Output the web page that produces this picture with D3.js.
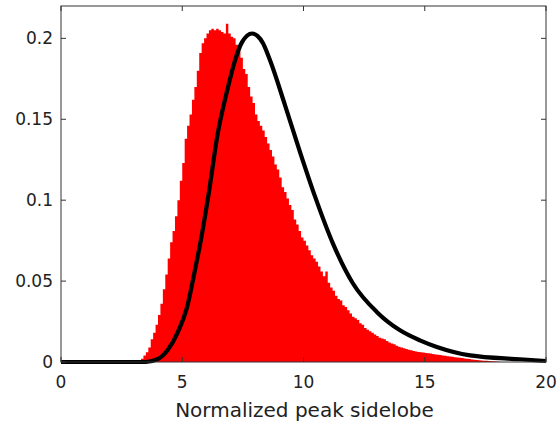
<!DOCTYPE html>
<meta charset="utf-8">
<script src="https://d3js.org/d3.v7.min.js"></script>
<style>
  body { margin: 0; background: #fff; }
  text { font-family: "DejaVu Sans", sans-serif; fill: #222; }
</style>
<body>
<svg width="558" height="424"></svg>
<script>
    // histogram: bins of 0.1 starting at 3.0
    var binStart = 3.0, binWidth = 0.1;
    var histValues = [
      0, 0.0003, 0.001, 0.002, 0.004, 0.006, 0.009, 0.014, 0.018, 0.023,      // 3.0 - 3.9
      0.029, 0.036, 0.045, 0.054, 0.064, 0.074, 0.081, 0.090, 0.100, 0.112,    // 4.0 - 4.9
      0.123, 0.138, 0.146, 0.153, 0.162, 0.170, 0.180, 0.191, 0.197, 0.200,    // 5.0 - 5.9
      0.203, 0.205, 0.206, 0.205, 0.206, 0.205, 0.204, 0.203, 0.209, 0.203,    // 6.0 - 6.9
      0.201, 0.200, 0.196, 0.192, 0.188, 0.181, 0.178, 0.170, 0.164, 0.160,    // 7.0 - 7.9
      0.153, 0.149, 0.146, 0.143, 0.139, 0.135, 0.131, 0.127, 0.122, 0.119,    // 8.0 - 8.9
      0.114, 0.108, 0.105, 0.101, 0.097, 0.094, 0.088, 0.085, 0.081, 0.077,    // 9.0 - 9.9
      0.075, 0.072, 0.069, 0.066, 0.064, 0.062, 0.059, 0.056, 0.053, 0.056,    // 10.0 - 10.9
      0.049, 0.046, 0.044, 0.041, 0.039, 0.038, 0.035, 0.034, 0.032, 0.030,    // 11.0 - 11.9
      0.028, 0.027, 0.026, 0.024, 0.023, 0.021, 0.020, 0.019, 0.018, 0.017,    // 12.0 - 12.9
      0.016, 0.015, 0.0145, 0.014, 0.013, 0.012, 0.0115, 0.011, 0.010, 0.0095, // 13.0 - 13.9
      0.009, 0.0085, 0.008, 0.0075, 0.0072, 0.0068, 0.0065, 0.0062, 0.006, 0.0058, // 14.0 - 14.9
      0.0056, 0.0054, 0.0052, 0.005, 0.0047, 0.0045, 0.0043, 0.004, 0.0038, 0.0036, // 15.0 - 15.9
      0.0034, 0.0032, 0.003, 0.0028, 0.0026, 0.0024, 0.0022, 0.002, 0.0018, 0.0016, // 16.0 - 16.9
      0.0014, 0.0012, 0.0011, 0.001, 0.0008, 0.0007, 0.0006, 0.0005, 0.0004, 0.0003, // 17.0 - 17.9
      0.0002, 0
    ];

    // fitted pdf curve
    var curveX = [0, 3.5, 4.0, 4.4, 4.8, 5.2, 5.5, 5.8, 6.1, 6.45, 6.89, 7.15, 7.46, 7.88, 8.1,
                  8.33, 8.62, 9.24, 9.86, 10.47, 11.22, 12.04, 13.03, 13.98, 14.8, 15.5, 16.87, 18.93, 20];
    var curveY = [0, 0, 0.0019, 0.0074, 0.0179, 0.034, 0.055, 0.078, 0.105, 0.140, 0.170, 0.185, 0.1975, 0.203, 0.2015,
                  0.197, 0.1864, 0.1586, 0.1296, 0.1025, 0.073, 0.0485, 0.0308, 0.0196, 0.0134, 0.0093, 0.0041, 0.0017, 0.0006];

    var xTicks = [0, 5, 10, 15, 20];
    var yTicks = [0, 0.05, 0.1, 0.15, 0.2];
    var xLabel = "Normalized peak sidelobe";

    var mLeft = 61, mRight = 546, mTop = 6, mBottom = 362;
    var svg = d3.select('svg');

    var x = d3.scaleLinear().domain([0, 20]).range([mLeft, mRight]);
    var y = d3.scaleLinear().domain([0, 0.22]).range([mBottom, mTop]);

    // histogram as a stepped area
    var bins = histValues.map(function(v, i){ return { x0: binStart + i*binWidth, v: v }; });
    var area = d3.area()
        .curve(d3.curveStepAfter)
        .x(function(d){ return x(d.x0); })
        .y0(y(0))
        .y1(function(d){ return y(d.v); });
    svg.append('path').datum(bins)
        .attr('d', area)
        .attr('fill', '#ff0000');

    // black curve
    var pts = curveX.map(function(v, i){ return [v, curveY[i]]; });
    var line = d3.line()
        .curve(d3.curveMonotoneX)
        .x(function(d){ return x(d[0]); })
        .y(function(d){ return y(d[1]); });
    svg.append('path').datum(pts)
        .attr('d', line)
        .attr('fill', 'none')
        .attr('stroke', '#000')
        .attr('stroke-width', 4.2)
        .attr('stroke-linejoin', 'round');

    // axes, matlab style: box with inward ticks
    var axisColor = '#333';
    svg.append('rect')
        .attr('x', mLeft).attr('y', mTop)
        .attr('width', mRight - mLeft).attr('height', mBottom - mTop)
        .attr('fill', 'none').attr('stroke', axisColor).attr('stroke-width', 1);

    var g = svg.append('g');
    xTicks.forEach(function(t){
        g.append('line').attr('x1', x(t)).attr('x2', x(t)).attr('y1', mBottom).attr('y2', mBottom - 5).attr('stroke', axisColor);
        g.append('line').attr('x1', x(t)).attr('x2', x(t)).attr('y1', mTop).attr('y2', mTop + 5).attr('stroke', axisColor);
        g.append('text').attr('x', x(t)).attr('y', 388)
            .attr('text-anchor', 'middle').attr('font-size', '17px').text(t);
    });
    yTicks.forEach(function(t){
        g.append('line').attr('x1', mLeft).attr('x2', mLeft + 5).attr('y1', y(t)).attr('y2', y(t)).attr('stroke', axisColor);
        g.append('line').attr('x1', mRight).attr('x2', mRight - 5).attr('y1', y(t)).attr('y2', y(t)).attr('stroke', axisColor);
        g.append('text').attr('x', 53).attr('y', y(t) + 6)
            .attr('text-anchor', 'end').attr('font-size', '17px').text(t);
    });

    svg.append('text')
        .attr('x', (mLeft + mRight) / 2 + 1).attr('y', 417)
        .attr('text-anchor', 'middle').attr('font-size', '20px')
        .text(xLabel);
</script>
</body>
